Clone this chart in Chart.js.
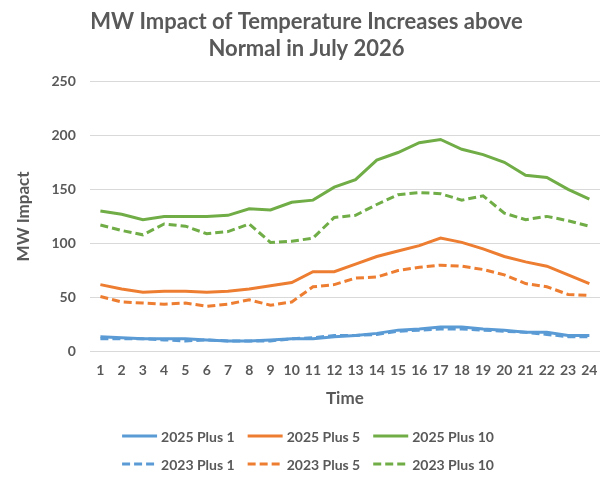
<!DOCTYPE html>
<html>
<head>
<meta charset="utf-8">
<script src="https://cdn.jsdelivr.net/npm/chart.js@4.4.1/dist/chart.umd.min.js"></script>
<style>
  html, body { margin: 0; padding: 0; background: #ffffff; }
  #wrap { width: 616px; height: 479px; position: relative; }
</style>
</head>
<body>
<div id="wrap"><canvas id="c"></canvas></div>
<script>
const hours = ['1','2','3','4','5','6','7','8','9','10','11','12','13','14','15','16','17','18','19','20','21','22','23','24'];

const plus1_2025  = [14, 13, 12, 12, 12, 11, 10, 10, 11, 12, 12, 14, 15, 17, 20, 21, 23, 23, 21, 20, 18, 18, 15, 15];
const plus5_2025  = [62, 58, 55, 56, 56, 55, 56, 58, 61, 64, 74, 74, 81, 88, 93, 98, 105, 101, 95, 88, 83, 79, 71, 63];
const plus10_2025 = [130, 127, 122, 125, 125, 125, 126, 132, 131, 138, 140, 152, 159, 177, 184, 193, 196, 187, 182, 175, 163, 161, 150, 141];

const plus1_2023  = [12, 12, 12, 11, 10, 11, 10, 10, 10, 12, 13, 15, 15, 16, 19, 20, 21, 21, 20, 19, 18, 16, 14, 14];
const plus5_2023  = [51, 46, 45, 44, 45, 42, 44, 48, 43, 46, 60, 62, 68, 69, 75, 78, 80, 79, 76, 71, 63, 60, 53, 52];
const plus10_2023 = [117, 112, 108, 118, 116, 109, 111, 118, 101, 102, 105, 124, 126, 136, 145, 147, 146, 140, 144, 128, 122, 125, 121, 116];

const yTicks = [0, 50, 100, 150, 200, 250];

const BLUE = '#5B9BD5', ORANGE = '#ED7D31', GREEN = '#70AD47';
const TXT = '#595959';
const FONT = 'Lato, "Open Sans", sans-serif';
const DASH = [8, 4];

function ds(label, data, color, dashed) {
  return {
    label: label,
    data: data,
    borderColor: color,
    backgroundColor: color,
    borderWidth: 3,
    borderDash: dashed ? DASH : [],
    pointRadius: 0,
    pointHoverRadius: 0,
    tension: 0,
    fill: false
  };
}

const customLegend = {
  id: 'customLegend',
  afterDraw(chart) {
    const ctx = chart.ctx;
    const items = chart.data.datasets;
    const lineLen = 35, gap = 4, pad = 13;
    const rowsY = [436, 464];
    ctx.save();
    ctx.font = 'bold 14px ' + FONT;
    ctx.textBaseline = 'middle';
    for (let r = 0; r < 2; r++) {
      const row = items.slice(r * 3, r * 3 + 3);
      const widths = row.map(d => lineLen + gap + ctx.measureText(d.label).width);
      const total = widths.reduce((a, b) => a + b, 0) + pad * (row.length - 1);
      let x = chart.width / 2 - total / 2;
      const y = rowsY[r];
      row.forEach((d, i) => {
        ctx.strokeStyle = d.borderColor;
        ctx.lineWidth = 3;
        ctx.setLineDash(d.borderDash || []);
        ctx.beginPath();
        ctx.moveTo(x, y);
        ctx.lineTo(x + lineLen, y);
        ctx.stroke();
        ctx.setLineDash([]);
        ctx.fillStyle = TXT;
        ctx.fillText(d.label, x + lineLen + gap, y + 1);
        x += widths[i] + pad;
      });
    }
    ctx.restore();
  }
};

new Chart(document.getElementById('c'), {
  type: 'line',
  data: {
    labels: hours,
    datasets: [
      ds('2025 Plus 1', plus1_2025, BLUE, false),
      ds('2025 Plus 5', plus5_2025, ORANGE, false),
      ds('2025 Plus 10', plus10_2025, GREEN, false),
      ds('2023 Plus 1', plus1_2023, BLUE, true),
      ds('2023 Plus 5', plus5_2023, ORANGE, true),
      ds('2023 Plus 10', plus10_2023, GREEN, true)
    ]
  },
  plugins: [customLegend],
  options: {
    responsive: true,
    maintainAspectRatio: false,
    animation: false,
    layout: { padding: { left: 13, right: 16, top: 8, bottom: 70 } },
    plugins: {
      legend: { display: false },
      tooltip: { enabled: false },
      title: {
        display: true,
        text: ['MW Impact of Temperature Increases above', 'Normal in July 2026'],
        color: TXT,
        font: { family: FONT, size: 22, weight: 'bold', lineHeight: 1.25 },
        padding: { top: 0, bottom: 18 }
      }
    },
    scales: {
      x: {
        offset: true,
        grid: { display: false, drawTicks: false },
        border: { display: false },
        ticks: {
          color: TXT,
          font: { family: FONT, size: 14, weight: 'bold' },
          maxRotation: 0,
          autoSkip: false,
          padding: 10
        },
        title: {
          display: true,
          text: 'Time',
          color: TXT,
          font: { family: FONT, size: 17, weight: 'bold' },
          padding: { top: 0, bottom: 0 }
        }
      },
      y: {
        min: 0,
        max: 250,
        afterBuildTicks(scale) { scale.ticks = yTicks.map(v => ({ value: v })); },
        grid: { color: '#D9D9D9', lineWidth: 1, drawTicks: false },
        border: { display: false },
        ticks: {
          color: TXT,
          font: { family: FONT, size: 14, weight: 'bold' },
          padding: 14
        },
        title: {
          display: true,
          text: 'MW Impact',
          color: TXT,
          font: { family: FONT, size: 17, weight: 'bold' },
          padding: { top: 0, bottom: 4 }
        }
      }
    }
  }
});
</script>
</body>
</html>
